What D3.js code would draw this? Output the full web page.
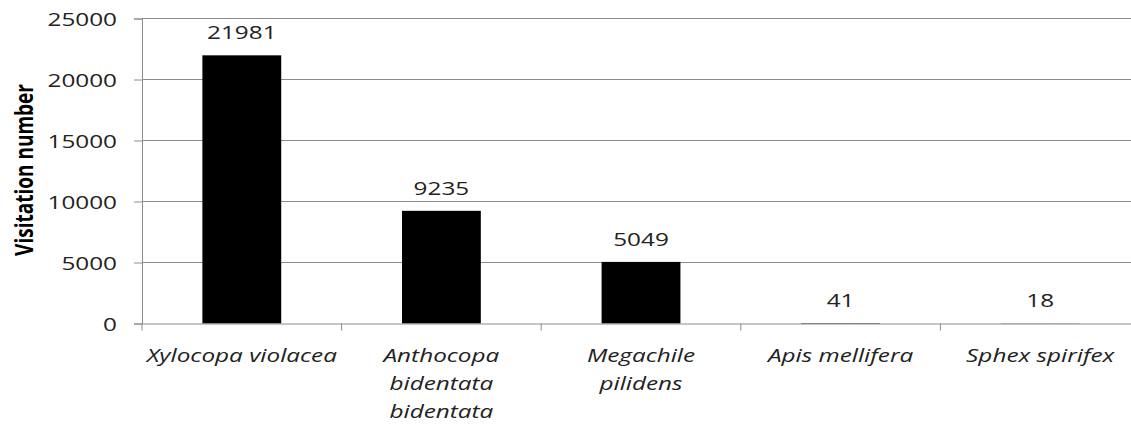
<!DOCTYPE html>
<html>
<head>
<meta charset="utf-8">
<script src="https://cdn.jsdelivr.net/npm/d3@7"></script>
<style>
  body { margin: 0; background: #fff; }
  svg { display: block; }
  text { font-family: "Open Sans", sans-serif; fill: #222; }
</style>
</head>
<body>
<svg id="chart" width="1131" height="425"></svg>
<script>
/* bee visitation counts by species */
const species = [
  ["Xylocopa violacea"],
  ["Anthocopa", "bidentata", "bidentata"],
  ["Megachile", "pilidens"],
  ["Apis mellifera"],
  ["Sphex spirifex"]
];
const visits = [21981, 9235, 5049, 41, 18];
const yTicks = [0, 5000, 10000, 15000, 20000, 25000];

const STRETCH = 1.28;   // the picture is wider than tall, text looks stretched
const LEFT = 142, RIGHT = 1140, TOP = 18.5, BOTTOM = 323.5;
const FS = 19;

const svg = d3.select('#chart');
const keys = species.map(s => s.join(' '));

const x = d3.scaleBand().domain(keys).range([LEFT, RIGHT]).padding(0);
const y = d3.scaleLinear().domain([0, 25000]).range([BOTTOM, TOP]);
const barW = x.bandwidth() * 0.395;

/* stretched text helper */
function label(parent, px, py, str, opts) {
  let g = parent.append('g').attr('transform', `translate(${px},${py}) scale(${STRETCH},1)`);
  let t = g.append('text')
    .attr('text-anchor', opts.anchor || 'middle')
    .style('font-size', (opts.size || FS) + 'px')
    .text(str);
  if (opts.italic) t.style('font-style', 'italic');
  if (opts.bold) t.style('font-weight', 'bold');
  return g;
}

// gridlines
svg.append('g')
  .selectAll('line')
  .data(yTicks.slice(1))
  .join('line')
  .attr('x1', LEFT).attr('x2', RIGHT)
  .attr('y1', d => y(d)).attr('y2', d => y(d))
  .attr('stroke', '#8c8c8c').attr('stroke-width', 1);

// y axis
let yAxis = svg.append('g').attr('transform', `translate(${LEFT},0)`)
  .call(d3.axisLeft(y).tickValues(yTicks).tickSize(8).tickFormat(''));
yAxis.select('.domain').attr('stroke', '#8c8c8c');
yAxis.selectAll('.tick line').attr('stroke', '#8c8c8c');
yTicks.forEach(v => label(svg, 117, y(v) + 7, d3.format('d')(v), {anchor: 'end'}));

// bars
svg.append('g')
  .selectAll('rect')
  .data(visits)
  .join('rect')
  .attr('x', (d, i) => x(keys[i]) + x.bandwidth() / 2 - barW / 2)
  .attr('y', d => y(d))
  .attr('width', barW)
  .attr('height', d => BOTTOM - y(d))
  .attr('fill', '#000');

// x axis
let xAxis = svg.append('g').attr('transform', `translate(0,${BOTTOM})`)
  .call(d3.axisBottom(x).tickSize(0).tickFormat(''));
xAxis.select('.domain').attr('stroke', '#8c8c8c');
xAxis.selectAll('.tick').remove();
svg.append('g')
  .selectAll('line')
  .data(d3.range(keys.length + 1))
  .join('line')
  .attr('x1', i => LEFT + i * x.step()).attr('x2', i => LEFT + i * x.step())
  .attr('y1', BOTTOM).attr('y2', BOTTOM + 7)
  .attr('stroke', '#8c8c8c');

// value labels
visits.forEach((v, i) => {
  label(svg, x(keys[i]) + x.bandwidth() / 2, y(v) - 16, v, {});
});

// category labels
species.forEach((lines, i) => {
  lines.forEach((ln, j) => {
    label(svg, x(keys[i]) + x.bandwidth() / 2, 361.5 + j * 28, ln, {italic: true});
  });
});

// y title
svg.append('g').attr('transform', `translate(33,170) rotate(-90) scale(1,${STRETCH})`)
  .append('text')
  .attr('text-anchor', 'middle')
  .style('font-size', '19px')
  .style('font-weight', 'bold')
  .style('fill', '#000')
  .text('Visitation number');
</script>
</body>
</html>
